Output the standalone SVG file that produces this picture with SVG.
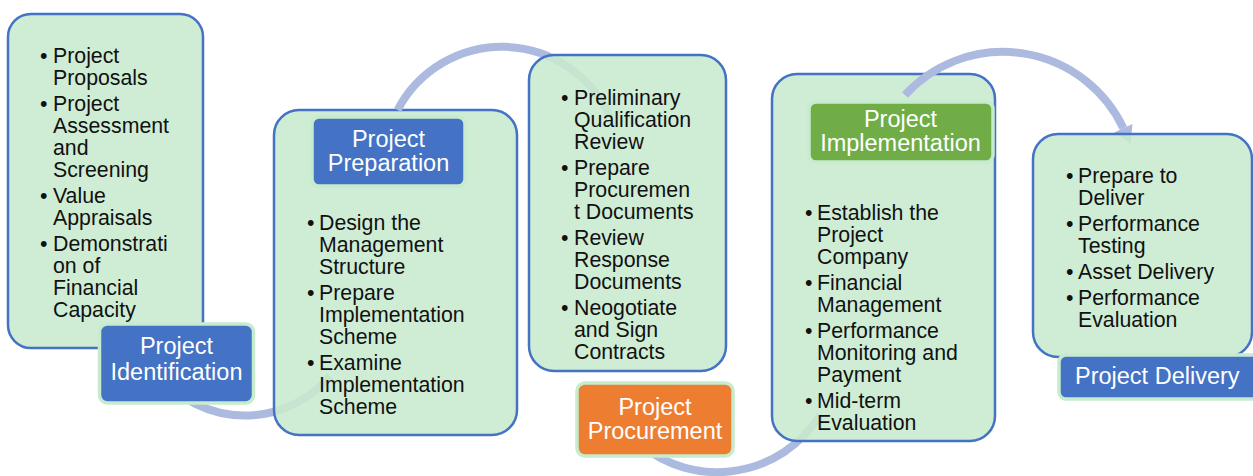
<svg xmlns="http://www.w3.org/2000/svg" width="1253" height="476" viewBox="0 0 1253 476">
  <style>
    .card { fill: #C8EACE; fill-opacity: 0.88; stroke: #4472C4; stroke-width: 2.5; }
    .tag { stroke: #C6EBCD; stroke-width: 3.5; }
    .blue { fill: #4472C4; }
    .orange { fill: #ED7D31; }
    .green { fill: #70AD47; }
    .b { font-family: "Liberation Sans", Arial, sans-serif; font-size: 21.3px; fill: #111; }
    .l { font-family: "Liberation Sans", Arial, sans-serif; font-size: 23.5px; fill: #fff; text-anchor: middle; }
    .arc { fill: none; stroke: #ADBADF; stroke-width: 8; }
  </style>
  <defs>
    <marker id="head" markerUnits="userSpaceOnUse" markerWidth="20" markerHeight="22" viewBox="0 -11 18 22" refX="0" refY="0" orient="auto">
      <path d="M0,-10 L17,0 L0,10 Z" fill="#ADBADF"/>
    </marker>
  </defs>

  <!-- Stage 1: identification -->
  <g id="identification">
    <rect class="card" x="8" y="14" width="195" height="334" rx="23"/>
  </g>

  <g id="connectors-a">
    <path class="arc" d="M160,376 A111,111 0 0 0 330,376"/>
  </g>

  <g id="identification-tag">
    <rect class="tag blue" x="99.5" y="324" width="154" height="79" rx="8"/>
    <text class="l"><tspan x="176.5" y="354">Project</tspan><tspan x="176.5" y="380">Identification</tspan></text>
  </g>
  <g id="identification-items">
    <text class="b" y="63"><tspan x="40">•</tspan><tspan x="53">Project</tspan><tspan x="53" dy="22">Proposals</tspan></text>
    <text class="b" y="111"><tspan x="40">•</tspan><tspan x="53">Project</tspan><tspan x="53" dy="22">Assessment</tspan><tspan x="53" dy="22">and</tspan><tspan x="53" dy="22">Screening</tspan></text>
    <text class="b" y="203"><tspan x="40">•</tspan><tspan x="53">Value</tspan><tspan x="53" dy="22">Appraisals</tspan></text>
    <text class="b" y="251"><tspan x="40">•</tspan><tspan x="53">Demonstrati</tspan><tspan x="53" dy="22">on of</tspan><tspan x="53" dy="22">Financial</tspan><tspan x="53" dy="22">Capacity</tspan></text>
  </g>

  <!-- Stage 2: preparation -->
  <g id="preparation">
    <rect class="card" x="274" y="110" width="243" height="325" rx="25"/>
    <rect class="tag blue" x="312" y="117" width="153" height="69" rx="7" stroke="none"/>
    <text class="l"><tspan x="388.5" y="147">Project</tspan><tspan x="388.5" y="171">Preparation</tspan></text>
    <text class="b" y="230"><tspan x="307">•</tspan><tspan x="319">Design the</tspan><tspan x="319" dy="22">Management</tspan><tspan x="319" dy="22">Structure</tspan></text>
    <text class="b" y="300"><tspan x="307">•</tspan><tspan x="319">Prepare</tspan><tspan x="319" dy="22">Implementation</tspan><tspan x="319" dy="22">Scheme</tspan></text>
    <text class="b" y="370"><tspan x="307">•</tspan><tspan x="319">Examine</tspan><tspan x="319" dy="22">Implementation</tspan><tspan x="319" dy="22">Scheme</tspan></text>
  </g>

  <g id="connectors-b">
    <path class="arc" d="M397.6,110 A118,118 0 0 1 610,117"/>
  </g>

  <!-- Stage 3: procurement -->
  <g id="procurement">
    <rect class="card" x="529" y="55" width="197" height="316" rx="25"/>
    <text class="b" y="105"><tspan x="561">•</tspan><tspan x="574">Preliminary</tspan><tspan x="574" dy="22">Qualification</tspan><tspan x="574" dy="22">Review</tspan></text>
    <text class="b" y="175"><tspan x="561">•</tspan><tspan x="574">Prepare</tspan><tspan x="574" dy="22">Procuremen</tspan><tspan x="574" dy="22">t Documents</tspan></text>
    <text class="b" y="245"><tspan x="561">•</tspan><tspan x="574">Review</tspan><tspan x="574" dy="22">Response</tspan><tspan x="574" dy="22">Documents</tspan></text>
    <text class="b" y="315"><tspan x="561">•</tspan><tspan x="574">Neogotiate</tspan><tspan x="574" dy="22">and Sign</tspan><tspan x="574" dy="22">Contracts</tspan></text>
  </g>

  <g id="connectors-c">
    <path class="arc" d="M630,435 A121,121 0 0 0 820,415"/>
  </g>

  <g id="procurement-tag">
    <rect class="tag orange" x="577" y="383" width="156" height="73" rx="8"/>
    <text class="l"><tspan x="655" y="415">Project</tspan><tspan x="655" y="439">Procurement</tspan></text>
  </g>

  <!-- Stage 4: implementation -->
  <g id="implementation">
    <rect class="card" x="772" y="74" width="223" height="367" rx="25"/>
    <rect class="tag green" x="809" y="102" width="184" height="60" rx="7"/>
    <text class="l"><tspan x="900.5" y="127">Project</tspan><tspan x="900.5" y="151">Implementation</tspan></text>
    <text class="b" y="220"><tspan x="805">•</tspan><tspan x="817">Establish the</tspan><tspan x="817" dy="22">Project</tspan><tspan x="817" dy="22">Company</tspan></text>
    <text class="b" y="290"><tspan x="805">•</tspan><tspan x="817">Financial</tspan><tspan x="817" dy="22">Management</tspan></text>
    <text class="b" y="338"><tspan x="805">•</tspan><tspan x="817">Performance</tspan><tspan x="817" dy="22">Monitoring and</tspan><tspan x="817" dy="22">Payment</tspan></text>
    <text class="b" y="408"><tspan x="805">•</tspan><tspan x="817">Mid-term</tspan><tspan x="817" dy="22">Evaluation</tspan></text>
  </g>

  <g id="connectors-d">
    <path class="arc" d="M905,95 A133,133 0 0 1 1123.4,128.3" marker-end="url(#head)"/>
  </g>

  <!-- Stage 5: delivery -->
  <g id="delivery">
    <rect class="card" x="1033" y="134" width="219" height="223" rx="25"/>
    <text class="b" y="183"><tspan x="1066">•</tspan><tspan x="1078">Prepare to</tspan><tspan x="1078" dy="22">Deliver</tspan></text>
    <text class="b" y="231"><tspan x="1066">•</tspan><tspan x="1078">Performance</tspan><tspan x="1078" dy="22">Testing</tspan></text>
    <text class="b" y="279"><tspan x="1066">•</tspan><tspan x="1078">Asset Delivery</tspan></text>
    <text class="b" y="305"><tspan x="1066">•</tspan><tspan x="1078">Performance</tspan><tspan x="1078" dy="22">Evaluation</tspan></text>
  </g>
  <g id="delivery-tag">
    <rect class="tag blue" x="1059" y="355" width="210" height="44" rx="7"/>
    <text class="l" x="1075" y="384" style="text-anchor:start">Project Delivery</text>
  </g>
</svg>
